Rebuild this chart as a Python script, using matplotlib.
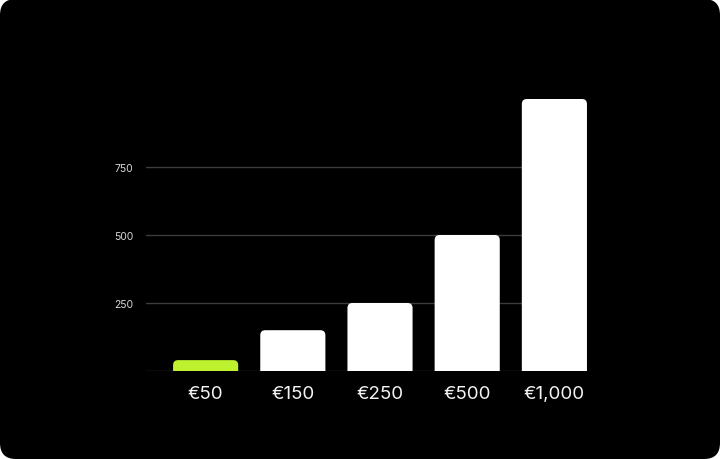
import matplotlib
matplotlib.use("Agg")
import matplotlib.pyplot as plt
from matplotlib.patches import FancyBboxPatch

# chart data
prices = ["€50", "€150", "€250", "€500", "€1,000"]
values = [40, 150, 250, 500, 1000]
y_ticks = [250, 500, 750]

bar_colors = ["#bff22e", "white", "white", "white", "white"]

W, H = 720, 460
fig = plt.figure(figsize=(W / 100, H / 100), dpi=100, facecolor="white")

# black card with rounded corners
card = FancyBboxPatch((0, 0), 1, 1, boxstyle="round,pad=0,rounding_size=0.0222",
                      mutation_aspect=W / H, transform=fig.transFigure,
                      facecolor="black", edgecolor="none", zorder=-10)
fig.patches.append(card)

left, right, bottom, top = 146, 587, 372, 100
ax = fig.add_axes([left / W, (H - bottom) / H, (right - left) / W, (bottom - top) / H])
ax.set_facecolor("none")

x = list(range(len(prices)))
bars = ax.bar(x, values, width=0.747, color=bar_colors, zorder=3)
ax.set_xlim(-0.684, 4.374)
ax.set_ylim(0, 1000)

# swap plain bars for ones with rounded tops
px_x = (right - left) / (4.374 + 0.684)
px_y = (bottom - top) / 1000
aspect = px_x / px_y
r = 5 / px_x
for b in bars:
    bx, by = b.get_x(), b.get_y()
    bw, bh = b.get_width(), b.get_height()
    extra = r * aspect
    p = FancyBboxPatch((bx, by - extra), bw, bh + extra,
                       boxstyle=f"round,pad=0,rounding_size={r}",
                       mutation_aspect=aspect, facecolor=b.get_facecolor(),
                       edgecolor="none", zorder=3)
    ax.add_patch(p)
    b.set_visible(False)

for y in [0] + y_ticks:
    ax.axhline(y, color="#3c3c3c", lw=1, zorder=1)

ax.set_xticks(x)
ax.set_xticklabels(prices, fontsize=13.5, color="#f4f4f4", family=["Inter", "DejaVu Sans"])
ax.set_yticks(y_ticks)
ax.set_yticklabels([str(v) for v in y_ticks], fontsize=7.5, color="#d8d8d8",
                   family=["Inter", "DejaVu Sans"])
ax.tick_params(axis="x", length=0, pad=10)
ax.tick_params(axis="y", length=0, pad=9)
for s in ax.spines.values():
    s.set_visible(False)

fig.savefig("out.png", dpi=100, facecolor="white")
